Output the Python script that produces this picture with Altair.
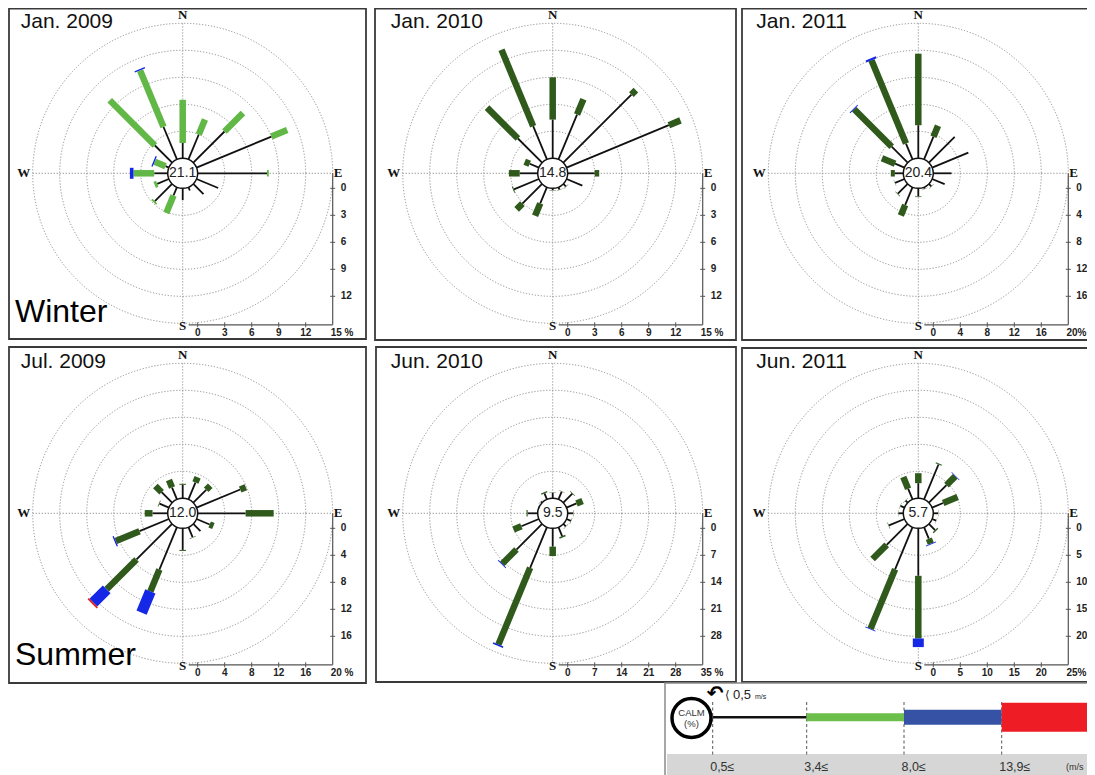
import math
import altair as alt
import pandas as pd

# ---------------- data ----------------
DIRECTIONS = ["N", "NNE", "NE", "ENE", "E", "ESE", "SE", "SSE",
              "S", "SSW", "SW", "WSW", "W", "WNW", "NW", "NNW"]
PANEL_TITLES = ["Jan. 2009", "Jan. 2010", "Jan. 2011", "Jul. 2009", "Jun. 2010", "Jun. 2011"]
CALM_PCT = [21.1, 14.8, 20.4, 12.0, 9.5, 5.7]
SCALE_MAX = [15, 15, 20, 20, 35, 25]
SEASONS = ["Winter", "Summer"]
SPEED_BOUNDS = ["0,5", "3,4", "8,0", "13,9"]

# frequency (%) per direction, speed classes 0.5-3.4 / 3.4-8.0 / 8.0-13.9 / >=13.9 m/s
JAN09_C1 = [1.7, 3.0, 4.9, 9.0, 7.7, 2.6, 1.6, 0.4, 1.3, 1.0, 2.7, 1.4, 1.5, 0.4, 2.7, 3.9]
JAN09_C2 = [4.8, 1.8, 2.9, 1.9, 0.2, 0, 0, 0, 0, 2.1, 0.2, 0.3, 2.3, 1.3, 7.1, 6.8]
JAN09_C3 = [0, 0, 0, 0, 0, 0, 0, 0, 0, 0, 0, 0, 0.4, 0.15, 0, 0.15]
JAN09_C4 = [0] * 16

JAN10_C1 = [4.3, 5.4, 10.7, 12.3, 3.0, 1.9, 0.4, 0.3, 0.2, 1.95, 3.1, 3.0, 2.0, 1.1, 3.8, 4.0]
JAN10_C2 = [4.7, 1.85, 0.7, 1.4, 0.5, 0, 0.05, 0.05, 0.05, 1.5, 0.9, 0.1, 1.2, 0.6, 4.85, 9.2]
JAN10_C3 = [0] * 16
JAN10_C4 = [0] * 16

JAN11_C1 = [4.9, 3.65, 5.4, 5.8, 2.7, 2.0, 0.5, 0.25, 1.2, 2.85, 2.05, 1.5, 1.25, 1.5, 3.35, 2.55]
JAN11_C2 = [10.6, 1.75, 0, 0, 0, 0, 0.05, 0.05, 0.1, 1.7, 0.1, 0.05, 0.6, 2.1, 7.85, 13.35]
JAN11_C3 = [0, 0, 0, 0, 0, 0, 0, 0, 0, 0, 0, 0, 0, 0, 0.15, 0.3]
JAN11_C4 = [0] * 16

JUL09_C1 = [2.0, 2.7, 2.7, 7.0, 7.1, 2.1, 1.5, 1.6, 3.2, 6.8, 7.45, 4.7, 2.25, 1.5, 2.2, 1.9]
JUL09_C2 = [0.15, 0.85, 0.85, 0.9, 4.15, 0.6, 0, 0.1, 0.15, 3.5, 6.25, 3.8, 1.15, 0.1, 1.3, 1.2]
JUL09_C3 = [0, 0, 0, 0, 0, 0, 0, 0, 0, 3.4, 2.8, 0.2, 0, 0, 0, 0]
JUL09_C4 = [0, 0, 0, 0, 0, 0, 0, 0, 0, 0, 0.25, 0, 0, 0, 0, 0]

JUN10_C1 = [1.4, 2.2, 3.3, 2.8, 1.4, 1.2, 0.9, 2.5, 4.75, 11.4, 9.4, 4.9, 2.6, 0.1, 0.4, 1.7]
JUN10_C2 = [0.1, 0.1, 0.15, 1.7, 0.1, 0.1, 0.1, 0.4, 2.45, 21.5, 5.2, 2.2, 0.3, 0.05, 0.05, 0.3]
JUN10_C3 = [0, 0, 0, 0, 0, 0, 0, 0, 0, 0.4, 0.2, 0, 0, 0, 0, 0]
JUN10_C4 = [0] * 16

JUN11_C1 = [2.8, 7.0, 4.6, 2.2, 0.9, 0.8, 1.6, 2.3, 8.8, 8.45, 5.5, 3.1, 0.9, 0.8, 0.55, 2.15]
JUN11_C2 = [1.85, 0.2, 2.3, 2.9, 0.05, 0.05, 0.25, 1.0, 11.6, 11.9, 3.7, 0.1, 0.05, 0.05, 0.05, 2.35]
JUN11_C3 = [0, 0, 0.1, 0, 0, 0, 0, 0.15, 1.6, 0.15, 0, 0, 0, 0, 0, 0]
JUN11_C4 = [0] * 16

PANELS = [
    (JAN09_C1, JAN09_C2, JAN09_C3, JAN09_C4),
    (JAN10_C1, JAN10_C2, JAN10_C3, JAN10_C4),
    (JAN11_C1, JAN11_C2, JAN11_C3, JAN11_C4),
    (JUL09_C1, JUL09_C2, JUL09_C3, JUL09_C4),
    (JUN10_C1, JUN10_C2, JUN10_C3, JUN10_C4),
    (JUN11_C1, JUN11_C2, JUN11_C3, JUN11_C4),
]

# ---------------- layout / style ----------------
COL_CX = [182.7, 552.7, 918.3]
ROW_CY = [173.3, 513.3]
R_CALM = 15.0
R_OUT = 150.0
FRAMES = [(9, 366, 8.6, 339), (375, 736, 8.6, 340), (742, 1100, 8.6, 340),
          (9, 366, 347, 683), (376, 736, 347, 682), (742, 1100, 348, 682)]
GREEN_LIGHT = "#62b846"
GREEN_DARK = "#2f5a1c"
BLUE = "#1428e6"
RED = "#e41e1e"
CLASS_W = [1.8, 6.5, 11, 13]

XS = alt.Scale(domain=[8, 1087], nice=False, zero=False)
YS = alt.Scale(domain=[8, 775], nice=False, zero=False, reverse=True)


def X(f="x"):
    return alt.X(f"{f}:Q", scale=XS, axis=None)


def Y(f="y"):
    return alt.Y(f"{f}:Q", scale=YS, axis=None)


def center(p):
    return COL_CX[p % 3], ROW_CY[p // 3]


seg_rows, ring_rows, cross_rows, axis_rows, tick_rows = [], [], [], [], []
vlab_rows, hlab_rows, endlab_rows, endlab_r_rows = [], [], [], []
lettN, lettS, lettW, lettE = [], [], [], []
calm_rows, title_rows = [], []

for p in range(6):
    cx, cy = center(p)
    M = SCALE_MAX[p]
    k = (R_OUT - R_CALM) / M
    step = M / 5
    green = GREEN_LIGHT if p == 0 else GREEN_DARK
    colors = ["#111111", green, BLUE, RED]
    for i, d in enumerate(DIRECTIONS):
        a = math.radians(i * 22.5)
        s, c = math.sin(a), math.cos(a)
        cum = 0.0
        for ci in range(4):
            v = PANELS[p][ci][i]
            if v <= 0:
                continue
            r1 = R_CALM + cum * k
            r2 = R_CALM + (cum + v) * k
            cum += v
            seg_rows.append(dict(x=cx + r1 * s, y=cy - r1 * c, x2=cx + r2 * s, y2=cy - r2 * c,
                                 col=colors[ci], w=CLASS_W[ci], o=ci, p=p))
    for j in range(1, 6):
        r = R_CALM + j * step * k
        ring_rows.append(dict(x=cx, y=cy, size=(2 * r) ** 2))
    cross_rows.append(dict(x=cx - R_OUT, y=cy, x2=cx + R_OUT, y2=cy))
    cross_rows.append(dict(x=cx, y=cy - R_OUT, x2=cx, y2=cy + R_OUT))
    yb = cy + R_OUT + 1.5
    axis_rows.append(dict(x=cx + R_OUT, y=cy, x2=cx + R_OUT, y2=yb))
    axis_rows.append(dict(x=cx + 6, y=yb, x2=cx + R_OUT, y2=yb))
    for j in range(5):
        r = R_CALM + j * step * k
        val = f"{j * step:g}"
        tick_rows.append(dict(x=cx + R_OUT - 2.5, y=cy + r, x2=cx + R_OUT + 2.5, y2=cy + r))
        tick_rows.append(dict(x=cx + r, y=yb - 2.5, x2=cx + r, y2=yb + 2.5))
        vlab_rows.append(dict(x=cx + R_OUT + 8, y=cy + r, t=val))
        hlab_rows.append(dict(x=cx + r, y=yb + 8.5, t=val))
    if p % 3 == 2:
        endlab_r_rows.append(dict(x=1086.5, y=yb + 8.5, t=f"{M}%"))
    else:
        endlab_rows.append(dict(x=cx + R_OUT - 2, y=yb + 8.5, t=f"{M} %"))
    lettN.append(dict(x=cx, y=cy - R_OUT - 8, t="N"))
    lettS.append(dict(x=cx, y=yb + 1, t="S"))
    lettW.append(dict(x=cx - R_OUT - 9, y=cy, t="W"))
    lettE.append(dict(x=cx + R_OUT + 1, y=cy, t="E"))
    calm_rows.append(dict(x=cx, y=cy, size=(2 * R_CALM) ** 2, t=f"{CALM_PCT[p]:.1f}"))
    title_rows.append(dict(x=cx - 162, y=cy - 145, t=PANEL_TITLES[p]))

seg_df = pd.DataFrame(seg_rows).sort_values(["o", "p"]).reset_index(drop=True)
frame_df = pd.DataFrame([dict(x=a, x2=b, y=c, y2=d) for a, b, c, d in FRAMES])
season_df = pd.DataFrame([dict(x=15, y=322, t=SEASONS[0]), dict(x=15, y=665, t=SEASONS[1])])

layers = []
layers.append(alt.Chart(frame_df).mark_rect(fill="white", stroke="#3a3a3a", strokeWidth=1.8)
              .encode(x=X(), x2="x2", y=Y(), y2="y2"))
layers.append(alt.Chart(pd.DataFrame(ring_rows)).mark_point(
    shape="circle", filled=False, stroke="#8f8f8f", strokeWidth=1, strokeDash=[1.2, 1.8], opacity=1)
    .encode(x=X(), y=Y(), size=alt.Size("size:Q", scale=None)))
layers.append(alt.Chart(pd.DataFrame(cross_rows)).mark_rule(
    stroke="#8f8f8f", strokeWidth=1, strokeDash=[1.2, 1.8])
    .encode(x=X(), y=Y(), x2="x2", y2="y2"))
layers.append(alt.Chart(pd.DataFrame(axis_rows)).mark_rule(stroke="#555555", strokeWidth=1.2)
              .encode(x=X(), y=Y(), x2="x2", y2="y2"))
layers.append(alt.Chart(pd.DataFrame(tick_rows)).mark_rule(stroke="#555555", strokeWidth=1)
              .encode(x=X(), y=Y(), x2="x2", y2="y2"))
lab_font = dict(font="Liberation Sans", fontWeight="bold", fontSize=10, color="#222222", baseline="middle")
layers.append(alt.Chart(pd.DataFrame(vlab_rows)).mark_text(align="left", **lab_font)
              .encode(x=X(), y=Y(), text="t:N"))
layers.append(alt.Chart(pd.DataFrame(hlab_rows)).mark_text(align="center", **lab_font)
              .encode(x=X(), y=Y(), text="t:N"))
layers.append(alt.Chart(pd.DataFrame(endlab_rows)).mark_text(align="left", **lab_font)
              .encode(x=X(), y=Y(), text="t:N"))
layers.append(alt.Chart(pd.DataFrame(endlab_r_rows)).mark_text(align="right", **lab_font)
              .encode(x=X(), y=Y(), text="t:N"))
let_font = dict(font="Liberation Serif", fontWeight="bold", fontSize=13, color="#111111", baseline="middle")
for rows, al in [(lettN, "center"), (lettS, "center"), (lettW, "center"), (lettE, "left")]:
    layers.append(alt.Chart(pd.DataFrame(rows)).mark_text(align=al, **let_font)
                  .encode(x=X(), y=Y(), text="t:N"))
layers.append(alt.Chart(seg_df).mark_rule(strokeCap="butt")
              .encode(x=X(), y=Y(), x2="x2", y2="y2",
                      color=alt.Color("col:N", scale=None),
                      strokeWidth=alt.StrokeWidth("w:Q", scale=None)))
calm_df = pd.DataFrame(calm_rows)
layers.append(alt.Chart(calm_df).mark_point(shape="circle", filled=True, fill="white",
                                            stroke="#111111", strokeWidth=1.5, opacity=1)
              .encode(x=X(), y=Y(), size=alt.Size("size:Q", scale=None)))
layers.append(alt.Chart(calm_df).mark_text(font="Liberation Sans", fontSize=14, color="#222222",
                                           align="center", baseline="middle")
              .encode(x=X(), y=Y(), text="t:N"))
layers.append(alt.Chart(pd.DataFrame(title_rows)).mark_text(
    font="Liberation Sans", fontSize=21, color="#111111", align="left", baseline="alphabetic")
    .encode(x=X(), y=Y(), text="t:N"))
layers.append(alt.Chart(season_df).mark_text(
    font="Liberation Sans", fontSize=32, color="#000000", align="left", baseline="alphabetic")
    .encode(x=X(), y=Y(), text="t:N"))

# ---------------- legend ----------------
LEG_X = [712.7, 806.7, 904.0, 1001.7, 1100.0]
LEG_Y = 717.3
LEG_W = [2.5, 8, 15, 29]
LEG_COL = ["#111111", "#6cbf4a", "#3552a4", "#ee1c24"]
box_df = pd.DataFrame([dict(x=665, x2=1100, y=683, y2=780)])
band_df = pd.DataFrame([dict(x=667, x2=1100, y=754, y2=780)])
layers.append(alt.Chart(box_df).mark_rect(fill="white", stroke="#8a8a8a", strokeWidth=1.5)
              .encode(x=X(), x2="x2", y=Y(), y2="y2"))
layers.append(alt.Chart(band_df).mark_rect(fill="#d6d6d6")
              .encode(x=X(), x2="x2", y=Y(), y2="y2"))
dash_df = pd.DataFrame([dict(x=v, y=702, y2=755) for v in LEG_X[:4]])
layers.append(alt.Chart(dash_df).mark_rule(stroke="#555555", strokeWidth=1, strokeDash=[3, 2.5])
              .encode(x=X(), y=Y(), y2="y2"))
bar_df = pd.DataFrame([dict(x=LEG_X[i], x2=LEG_X[i + 1], y=LEG_Y, col=LEG_COL[i], w=LEG_W[i])
                       for i in range(4)])
layers.append(alt.Chart(bar_df).mark_rule(strokeCap="butt")
              .encode(x=X(), x2="x2", y=Y(), color=alt.Color("col:N", scale=None),
                      strokeWidth=alt.StrokeWidth("w:Q", scale=None)))
leg_circle = pd.DataFrame([dict(x=691.5, y=718, size=39 ** 2)])
layers.append(alt.Chart(leg_circle).mark_point(shape="circle", filled=True, fill="white",
                                               stroke="#000000", strokeWidth=3.5, opacity=1)
              .encode(x=X(), y=Y(), size=alt.Size("size:Q", scale=None)))
calm_lab = pd.DataFrame([dict(x=691.5, y=712.5, t="CALM"), dict(x=691.5, y=724, t="(%)")])
layers.append(alt.Chart(calm_lab).mark_text(font="Liberation Sans", fontSize=9.5, color="#333333",
                                            align="center", baseline="middle")
              .encode(x=X(), y=Y(), text="t:N"))
arrow_df = pd.DataFrame([dict(x=715, y=694, t="↶")])
layers.append(alt.Chart(arrow_df).mark_text(font="DejaVu Sans", fontSize=20, fontWeight="bold",
                                            color="#000000", align="center", baseline="middle")
              .encode(x=X(), y=Y(), text="t:N"))
bracket_df = pd.DataFrame([dict(x=725, y=695, t="⟨")])
layers.append(alt.Chart(bracket_df).mark_text(font="DejaVu Sans", fontSize=12, color="#222222",
                                              align="left", baseline="middle")
              .encode(x=X(), y=Y(), text="t:N"))
calm_thr = pd.DataFrame([dict(x=733, y=695, t=SPEED_BOUNDS[0])])
layers.append(alt.Chart(calm_thr).mark_text(font="Liberation Sans", fontSize=13, color="#222222",
                                            align="left", baseline="middle")
              .encode(x=X(), y=Y(), text="t:N"))
unit_small = pd.DataFrame([dict(x=755, y=697, t="m/s")])
layers.append(alt.Chart(unit_small).mark_text(font="Liberation Sans", fontSize=7, color="#222222",
                                              align="left", baseline="middle")
              .encode(x=X(), y=Y(), text="t:N"))
bound_df = pd.DataFrame([dict(x=LEG_X[i] - 2.5, y=767, t=f"{SPEED_BOUNDS[i]}≤") for i in range(4)])
layers.append(alt.Chart(bound_df).mark_text(font="Liberation Sans", fontSize=12.5, color="#333333",
                                            align="left", baseline="middle")
              .encode(x=X(), y=Y(), text="t:N"))
unit_df = pd.DataFrame([dict(x=1066, y=767, t="(m/s")])
layers.append(alt.Chart(unit_df).mark_text(font="Liberation Sans", fontSize=9, color="#333333",
                                           align="left", baseline="middle")
              .encode(x=X(), y=Y(), text="t:N"))

chart = alt.layer(*layers).properties(
    width=1079, height=767, padding=0,
    autosize=alt.AutoSizeParams(type="none"),
    background="white",
).configure_view(stroke=None)

chart.save("out.html", embed_options={"renderer": "svg", "actions": False})
